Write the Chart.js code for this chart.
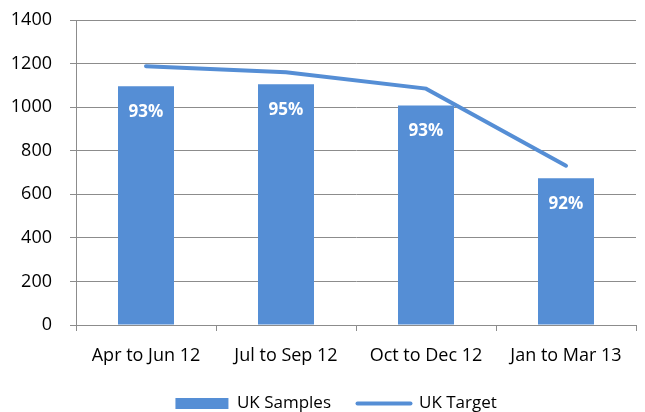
<!DOCTYPE html>
<html>
<head>
<meta charset="utf-8">
<script src="https://cdn.jsdelivr.net/npm/chart.js@4"></script>
<style>
  html, body { margin: 0; padding: 0; background: #fff; }
  #wrap { width: 645px; height: 412px; }
</style>
</head>
<body>
<div id="wrap"><canvas id="chart" width="645" height="412"></canvas></div>
<script>
var categories = ['Apr to Jun 12', 'Jul to Sep 12', 'Oct to Dec 12', 'Jan to Mar 13'];
var ukSamples = [1096, 1105, 1007, 674];
var ukTarget = [1188, 1160, 1085, 731];
var sampleLabels = ['93%', '95%', '93%', '92%'];
var yTicks = [0, 200, 400, 600, 800, 1000, 1200, 1400];

var blue = 'rgb(85, 142, 213)';
var grey = '#8c8c8c';
var fontName = '"Open Sans", sans-serif';

// étiquettes blanches dans les barres
var barLabels = {
  id: 'barLabels',
  afterDatasetsDraw: function(chart) {
    var ctx = chart.ctx;
    var meta = chart.getDatasetMeta(1);
    ctx.save();
    ctx.fillStyle = '#fff';
    ctx.font = 'bold 17px ' + fontName;
    ctx.textAlign = 'center';
    ctx.textBaseline = 'middle';
    meta.data.forEach(function(bar, i) {
      ctx.fillText(sampleLabels[i], bar.x, bar.y + 26);
    });
    ctx.restore();
  }
};

new Chart(document.getElementById('chart'), {
  data: {
    labels: categories,
    datasets: [{
      type: 'line',
      label: 'UK Target',
      data: ukTarget,
      borderColor: blue,
      backgroundColor: blue,
      borderWidth: 4,
      borderCapStyle: 'round',
      pointRadius: 0,
      tension: 0,
      order: 0
    }, {
      type: 'bar',
      label: 'UK Samples',
      data: ukSamples,
      backgroundColor: blue,
      categoryPercentage: 1,
      barPercentage: 0.4,
      order: 1
    }]
  },
  options: {
    responsive: false,
    animation: false,
    layout: { padding: { top: 20, right: 9, left: 0, bottom: -10 } },
    plugins: {
      tooltip: { enabled: false },
      legend: {
        position: 'bottom',
        fullSize: false,
        reverse: true,
        labels: {
          color: '#000',
          font: { family: fontName, size: 17 },
          usePointStyle: true,
          pointStyleWidth: 53,
          boxHeight: 11,
          padding: 0,
          generateLabels: function(chart) {
            return chart.data.datasets.map(function(ds, i) {
              var isLine = ds.type === 'line';
              return {
                text: isLine ? ds.label + '         ' : ds.label + '      ',
                fillStyle: blue,
                strokeStyle: blue,
                lineWidth: isLine ? 4 : 0,
                lineCap: 'round',
                pointStyle: isLine ? 'line' : 'rect',
                datasetIndex: i,
                fontColor: '#000'
              };
            });
          }
        }
      }
    },
    scales: {
      x: {
        grid: { display: true, drawOnChartArea: false, drawTicks: true, tickLength: 6, color: grey, offset: true },
        border: { display: true, color: grey },
        ticks: { color: '#000', font: { family: fontName, size: 18 }, padding: 14 },
        afterFit: function(scale) { scale.height = 70; }
      },
      y: {
        min: 0,
        max: 1400,
        afterBuildTicks: function(scale) {
          scale.ticks = yTicks.map(function(v) { return { value: v }; });
        },
        grid: { color: grey, tickLength: 6 },
        border: { display: true, color: grey },
        ticks: {
          color: '#000',
          font: { family: fontName, size: 18 },
          padding: 18,
          callback: function(v) { return String(v); }
        },
        afterFit: function(scale) {
          scale.width = 76;
          scale.paddingTop = 0;
          scale.paddingBottom = 0;
        }
      }
    }
  },
  plugins: [barLabels]
});
</script>
</body>
</html>
